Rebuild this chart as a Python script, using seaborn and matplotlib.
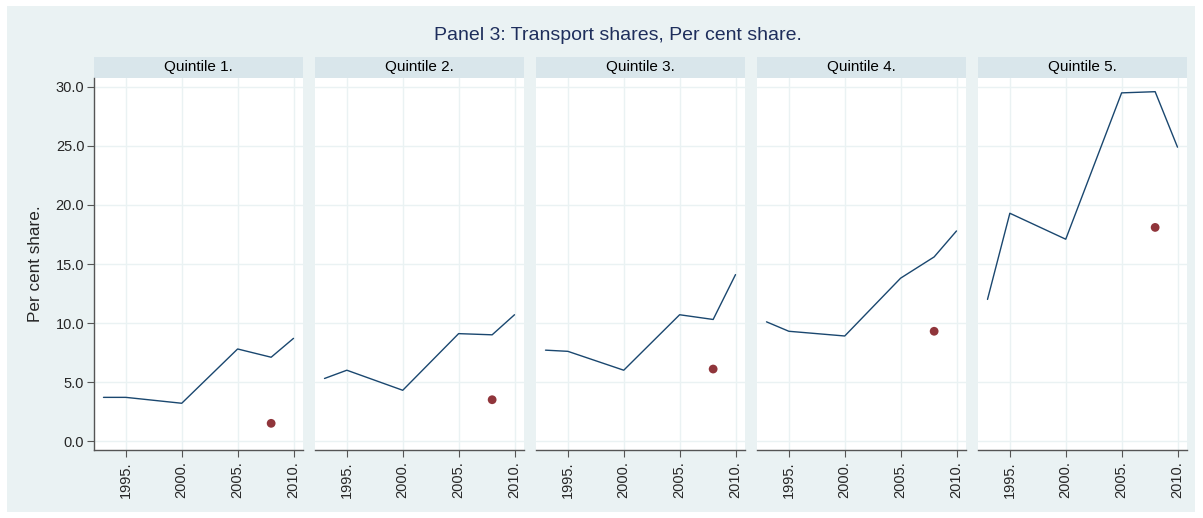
import matplotlib
matplotlib.use("Agg")
import matplotlib.pyplot as plt
from matplotlib.patches import Rectangle
import seaborn as sns
import pandas as pd

years = [1993, 1995, 2000, 2005, 2008, 2010]
quintiles = ["Quintile 1.", "Quintile 2.", "Quintile 3.", "Quintile 4.", "Quintile 5."]
q1 = [3.7, 3.7, 3.2, 7.8, 7.1, 8.7]
q2 = [5.3, 6.0, 4.3, 9.1, 9.0, 10.7]
q3 = [7.7, 7.6, 6.0, 10.7, 10.3, 14.1]
q4 = [10.1, 9.3, 8.9, 13.8, 15.6, 17.8]
q5 = [12.0, 19.3, 17.1, 29.5, 29.6, 24.9]
dot_year = 2008
dot_values = [1.5, 3.5, 6.1, 9.3, 18.1]
xticks = [1995, 2000, 2005, 2010]
yticks = [0, 5, 10, 15, 20, 25, 30]

series = [q1, q2, q3, q4, q5]
rows = []
for q, vals in zip(quintiles, series):
    for y, v in zip(years, vals):
        rows.append({"quintile": q, "year": y, "share": v})
df = pd.DataFrame(rows)
dots = pd.DataFrame({"quintile": quintiles, "year": [dot_year] * 5, "share": dot_values})

sns.set_theme(style="white")
plt.rcParams["font.family"] = ["Liberation Sans", "DejaVu Sans"]

W, H = 1203, 518
fig = plt.figure(figsize=(W / 100, H / 100), dpi=100)
fig.patch.set_facecolor("white")
bg = "#eaf2f3"
fig.patches.append(Rectangle((7 / W, 6 / H), (1195 - 7) / W, (512 - 6) / H,
                             transform=fig.transFigure, facecolor=bg,
                             edgecolor="none", zorder=-10))

line_color = "#1a476f"
dot_color = "#90353b"
spine_color = "#555555"

left0 = 94
pw = 209
step = 221
top_px = 78
bot_px = 450
strip_h = 21

for i, q in enumerate(quintiles):
    ax = fig.add_axes([(left0 + i * step) / W, (H - bot_px) / H,
                       pw / W, (bot_px - top_px) / H])
    ax.set_facecolor("white")
    sub = df[df.quintile == q]
    sns.lineplot(data=sub, x="year", y="share", ax=ax, color=line_color,
                 linewidth=1.0, zorder=3)
    sns.scatterplot(data=dots[dots.quintile == q], x="year", y="share", ax=ax,
                    color=dot_color, s=40, edgecolor="none", zorder=4)
    ax.set_xlim(1992.15, 2010.85)
    ax.set_ylim(-0.76, 30.76)
    ax.set_xticks(xticks)
    ax.set_yticks(yticks)
    ax.grid(True, color=bg, linewidth=1.0)
    ax.set_axisbelow(True)
    for s in ["top", "right", "left"]:
        ax.spines[s].set_visible(False)
    ax.spines["bottom"].set_color(spine_color)
    ax.spines["bottom"].set_linewidth(1.0)
    ax.set_xticklabels([f"{t}." for t in xticks], rotation=90, fontsize=10.5)
    ax.tick_params(axis="x", direction="out", length=5, width=0.8,
                   color=spine_color, pad=3, bottom=True)
    ax.set_xlabel("")
    if i == 0:
        ax.spines["left"].set_visible(True)
        ax.spines["left"].set_color(spine_color)
        ax.spines["left"].set_linewidth(1.0)
        ax.set_yticklabels([f"{t:.1f}" for t in yticks], fontsize=10.5)
        ax.tick_params(axis="y", direction="out", length=5, width=0.8,
                       color=spine_color, pad=2, left=True)
        ax.set_ylabel("Per cent share.", fontsize=12.3, labelpad=9)
    else:
        ax.set_yticklabels([])
        ax.tick_params(axis="y", left=False)
        ax.set_ylabel("")
    ax.add_patch(Rectangle((0, 1.0), 1, strip_h / (bot_px - top_px),
                           transform=ax.transAxes, facecolor="#d9e6eb",
                           edgecolor="none", clip_on=False))
    ax.text(0.5, 1.0 + (strip_h / 2) / (bot_px - top_px), q,
            transform=ax.transAxes, ha="center", va="center", fontsize=11,
            color="black")

fig.text(618 / W, 1 - 35 / H, "Panel 3: Transport shares, Per cent share.",
         ha="center", va="center", fontsize=14, color="#1e2e5c")

fig.savefig("out.png", dpi=100, facecolor="white")
